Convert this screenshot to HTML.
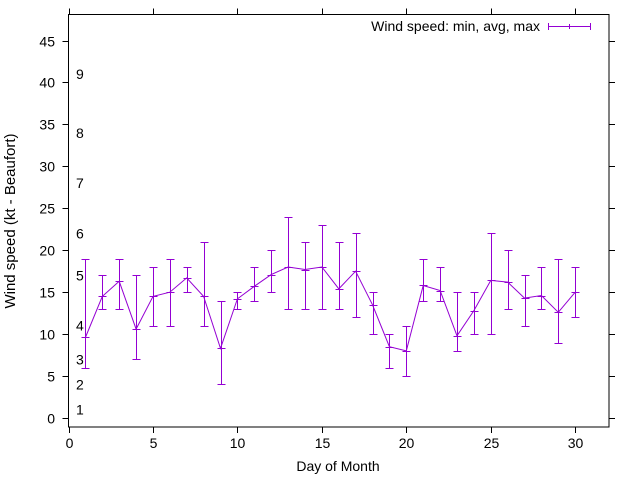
<!DOCTYPE html>
<html><head><meta charset="utf-8"><style>
html,body{margin:0;padding:0;background:#fff;}
svg{display:block;font-family:"Liberation Sans",sans-serif;}
</style></head><body>
<svg id="chart" width="640" height="480" viewBox="0 0 640 480" xmlns="http://www.w3.org/2000/svg">
<rect x="0" y="0" width="640" height="480" fill="#fff"/>
<g id="axes"></g>
<g id="beaufort"></g>
<g id="series"></g>
<rect x="68.5" y="14.5" width="540.5" height="412.5" fill="none" stroke="#000" stroke-width="1"/>
<text x="338" y="471" font-size="14" text-anchor="middle">Day of Month</text>
<text transform="translate(15,221) rotate(-90)" font-size="15" text-anchor="middle">Wind speed (kt - Beaufort)</text>
<g shape-rendering="crispEdges">
<text x="540" y="31" font-size="14" text-anchor="end">Wind speed: min, avg, max</text>
<line x1="548" y1="26.5" x2="591" y2="26.5" stroke="#9400d3" stroke-width="1"/>
<line x1="548.5" y1="23" x2="548.5" y2="30" stroke="#9400d3"/>
<line x1="590.5" y1="23" x2="590.5" y2="30" stroke="#9400d3"/>
<line x1="569.5" y1="24" x2="569.5" y2="29" stroke="#9400d3"/>
</g>
</svg>
<script>
const days = [1,2,3,4,5,6,7,8,9,10,11,12,13,14,15,16,17,18,19,20,21,22,23,24,25,26,27,28,29,30];
const minSpeed = [6,13,13,7,11,11,15,11,4,13,14,15,13,13,13,13,12,10,6,5,14,14,8,10,10,13,11,13,9,12];
const avgSpeed = [9.6,14.5,16.3,10.6,14.5,15,16.7,14.5,8.3,14.2,15.7,17.1,18,17.7,18,15.4,17.5,13.5,8.5,8,15.8,15.2,9.8,12.8,16.4,16.2,14.3,14.6,12.6,15];
const maxSpeed = [19,17,19,17,18,19,18,21,14,15,18,20,24,21,23,21,22,15,10,11,19,18,15,15,22,20,17,18,19,18];
const xTicks = [0,5,10,15,20,25,30];
const yTicks = [0,5,10,15,20,25,30,35,40,45];
const beaufortLabels = ["1","2","3","4","5","6","7","8","9"];
const beaufortKnots = [1,4,7,11,17,22,28,34,41];

const NS="http://www.w3.org/2000/svg";
const L=68.5,R=609,T=14.5,B=427;
const xMin=0,xMax=32,yMin=-1.07,yMax=48.1;
function xs(v){return L+(v-xMin)/(xMax-xMin)*(R-L);}
function ys(v){return B-(v-yMin)/(yMax-yMin)*(B-T);}
function mk(tag,attrs,parent){const e=document.createElementNS(NS,tag);for(const k in attrs)e.setAttribute(k,attrs[k]);parent.appendChild(e);return e;}

const axes=document.getElementById('axes');
xTicks.forEach(t=>{
  const x=Math.round(xs(t))+0.5;
  const a=mk('line',{x1:x,y1:B,x2:x,y2:B+6,stroke:'#000'},axes);
  
  
  const b=mk('line',{x1:x,y1:T,x2:x,y2:T-6,stroke:'#000'},axes);
  
  
  const tx=mk('text',{x:x,y:B+21,'font-size':14,'text-anchor':'middle'},axes);
  tx.textContent=t;
  
  
});
yTicks.forEach(t=>{
  const y=Math.round(ys(t))+0.5;
  const a=mk('line',{x1:L-6,y1:y,x2:L,y2:y,stroke:'#000'},axes);
  
  
  const b=mk('line',{x1:R,y1:y,x2:R+6,y2:y,stroke:'#000'},axes);
  
  
  const tx=mk('text',{x:55,y:y+5,'font-size':14,'text-anchor':'end'},axes);
  tx.textContent=t;
  
  
});
const bf=document.getElementById('beaufort');
beaufortLabels.forEach((lab,i)=>{
  const tx=mk('text',{x:76,y:ys(beaufortKnots[i])+5,'font-size':14},bf);
  tx.textContent=lab;
  
  
});

const s=document.getElementById('series');
const col='#9400d3';
days.forEach((d,i)=>{
  const x=Math.round(xs(d))+0.5;
  const g=mk('g',{stroke:col,'shape-rendering':'crispEdges'},s);
  
  
  const ymn=Math.round(ys(minSpeed[i]))+0.5, ymx=Math.round(ys(maxSpeed[i]))+0.5, yav=Math.round(ys(avgSpeed[i]))+0.5;
  mk('line',{x1:x,y1:ymn,x2:x,y2:ymx,stroke:col},g);
  mk('line',{x1:x-4,y1:ymn,x2:x+4,y2:ymn,stroke:col},g);
  mk('line',{x1:x-4,y1:ymx,x2:x+4,y2:ymx,stroke:col},g);
  mk('line',{x1:x-4,y1:yav,x2:x+4,y2:yav,stroke:col},g);
});
const pts=days.map((d,i)=>xs(d).toFixed(1)+','+ys(avgSpeed[i]).toFixed(1)).join(' ');
const pl=mk('polyline',{points:pts,fill:'none',stroke:col,'stroke-width':1},s);


</script>
</body></html>
